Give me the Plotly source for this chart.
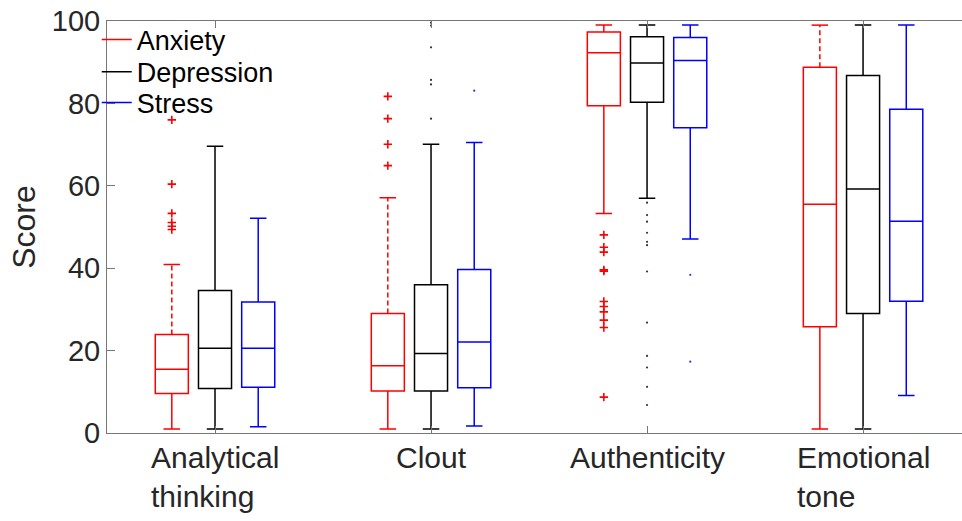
import plotly.graph_objects as go

# ---------------- data ----------------
categories = ["Analytical<br>thinking", "Clout", "Authenticity", "Emotional<br>tone"]
series = ["Anxiety", "Depression", "Stress"]

# per series: [Analytical, Clout, Authenticity, Emotional tone]
anx_q1 = [9.6, 10.2, 79.4, 25.8]
anx_median = [15.5, 16.3, 92.3, 55.5]
anx_q3 = [23.9, 29.0, 97.3, 88.8]
anx_low = [1.0, 1.0, 53.3, 1.0]
anx_high = [40.9, 57.1, 99.0, 99.0]
anx_outliers = [
    [76.0, 60.4, 53.3, 51.1, 50.2, 49.4],
    [81.7, 76.3, 70.1, 64.9],
    [48.1, 45.1, 43.9, 39.6, 39.3, 31.9, 30.7, 29.4, 27.4, 25.6, 8.7],
    [],
]

dep_q1 = [10.8, 10.2, 80.3, 29.0]
dep_median = [20.6, 19.3, 89.8, 59.2]
dep_q3 = [34.6, 36.0, 96.2, 86.8]
dep_low = [1.0, 1.0, 57.0, 1.0]
dep_high = [69.6, 70.1, 99.0, 99.0]
dep_outliers = [
    [],
    [99.6, 98.9, 93.6, 85.7, 84.6, 76.3],
    [55.9, 52.9, 51.3, 48.6, 46.4, 45.6, 39.2, 26.8, 18.7, 15.9, 11.2, 6.8],
    [],
]

str_q1 = [11.1, 11.0, 74.1, 32.0]
str_median = [20.6, 22.1, 90.4, 51.4]
str_q3 = [31.8, 39.7, 96.0, 78.6]
str_low = [1.5, 1.7, 47.1, 9.1]
str_high = [52.1, 70.5, 99.0, 99.0]
str_outliers = [[], [83.1], [38.4, 17.3], []]

y_ticks = [0, 20, 40, 60, 80, 100]

# ---------------- style ----------------
colors = ["#ff0000", "#000000", "#0000ff"]
offsets = [-0.2, 0.0, 0.2]
box_width = 0.153
whisker_w = 0.5
dashed_upper = [[True, True, False, True], [False] * 4, [False] * 4]
outlier_marker = [
    dict(symbol="cross-thin", size=6, line=dict(width=1.6, color="#ff0000")),
    dict(symbol="circle", size=2.2, color="#333333"),
    dict(symbol="circle", size=2.2, color="#3030ff"),
]
legend_ys = [0.954, 0.876, 0.801]
FONT = "Liberation Sans, Arial, sans-serif"
TXT = "#262626"

stats = [
    (anx_q1, anx_median, anx_q3, anx_low, anx_high, anx_outliers),
    (dep_q1, dep_median, dep_q3, dep_low, dep_high, dep_outliers),
    (str_q1, str_median, str_q3, str_low, str_high, str_outliers),
]

positions = list(range(1, len(categories) + 1))

fig = go.Figure()

for s, name in enumerate(series):
    q1, med, q3, lo, hi, outs = stats[s]
    xs = [p + offsets[s] for p in positions]
    upper = [q3[i] if dashed_upper[s][i] else hi[i] for i in range(len(xs))]
    fig.add_trace(go.Box(
        x=xs, q1=q1, median=med, q3=q3, lowerfence=lo, upperfence=upper,
        width=box_width, whiskerwidth=whisker_w,
        line=dict(color=colors[s], width=1.5),
        fillcolor="rgba(0,0,0,0)", boxpoints=False,
        showlegend=False, name=name, hoverinfo="skip",
    ))
    # dashed upper whiskers
    dx, dy, cx, cy = [], [], [], []
    for i in range(len(xs)):
        if dashed_upper[s][i]:
            dx += [xs[i], xs[i], None]
            dy += [q3[i], hi[i], None]
            half = box_width * whisker_w / 2
            cx += [xs[i] - half, xs[i] + half, None]
            cy += [hi[i], hi[i], None]
    if dx:
        fig.add_trace(go.Scatter(x=dx, y=dy, mode="lines", showlegend=False,
                                 line=dict(color=colors[s], width=1.5, dash="5px,3px"),
                                 hoverinfo="skip"))
        fig.add_trace(go.Scatter(x=cx, y=cy, mode="lines", showlegend=False,
                                 line=dict(color=colors[s], width=1.5), hoverinfo="skip"))
    # outliers
    ox, oy = [], []
    for i in range(len(xs)):
        ox += [xs[i]] * len(outs[i])
        oy += outs[i]
    if ox:
        fig.add_trace(go.Scatter(x=ox, y=oy, mode="markers", showlegend=False,
                                 marker=outlier_marker[s], hoverinfo="skip"))

# legend entries as lines, one legend per entry for tight spacing
legend_keys = ["legend", "legend2", "legend3"]
for s, name in enumerate(series):
    fig.add_trace(go.Scatter(x=[None], y=[None], mode="lines", name=name,
                             legend=legend_keys[s], showlegend=True,
                             line=dict(color=colors[s], width=1.5)))

for i, c in enumerate(categories):
    fig.add_annotation(x=positions[i], y=0, xref="x", yref="paper",
                       text=c, showarrow=False, xanchor="center", yanchor="top",
                       align="left", yshift=-6,
                       font=dict(family=FONT, size=30, color=TXT))

legend_layouts = {}
for s, key in enumerate(legend_keys):
    legend_layouts[key] = dict(x=-0.012, y=legend_ys[s], xanchor="left", yanchor="middle",
                               bgcolor="rgba(0,0,0,0)", borderwidth=0,
                               font=dict(family=FONT, size=27, color="#000000"))

fig.update_layout(
    width=962, height=521,
    margin=dict(l=107, r=0, t=21, b=88),
    paper_bgcolor="white", plot_bgcolor="white",
    font=dict(family=FONT, size=29, color=TXT),
    showlegend=True,
    xaxis=dict(range=[0.5, 4.458], tickvals=positions, ticktext=[""] * len(positions),
               ticks="inside", ticklen=7, tickcolor="#777777",
               showline=True, linecolor="#777777", linewidth=1, mirror="ticks",
               showgrid=False, zeroline=False),
    yaxis=dict(range=[0, 100], tickvals=y_ticks,
               ticks="inside", ticklen=8, tickcolor="#777777",
               showline=True, linecolor="#777777", linewidth=1,
               showgrid=False, zeroline=False,
               tickfont=dict(family=FONT, size=29, color=TXT),
               title=dict(text="Score", font=dict(family=FONT, size=32, color=TXT), standoff=6)),
    **legend_layouts,
)

fig.write_html("out.html")
